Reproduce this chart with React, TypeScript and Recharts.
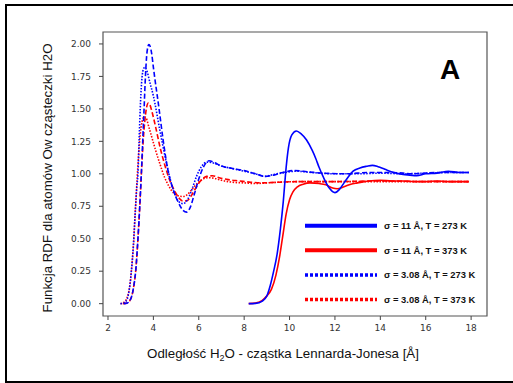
import React from 'react';
import { LineChart, Line, XAxis, YAxis, ReferenceArea } from 'recharts';

const xTicks = [2, 4, 6, 8, 10, 12, 14, 16, 18];
const yTicks = [0, 0.25, 0.5, 0.75, 1, 1.25, 1.5, 1.75, 2];
const xDomain = [1.78, 18.7];
const yDomain = [-0.095, 2.092];

// sigma = 11 Å, T = 273 K (solid blue)
const sigma11T273: number[][] = [
  [8.2, 0], [8.5, 0.002], [8.8, 0.02], [9.0, 0.06], [9.15, 0.14], [9.3, 0.25], [9.45, 0.38], [9.6, 0.58],
  [9.72, 0.78], [9.85, 1.05], [9.95, 1.2], [10.1, 1.3], [10.3, 1.33], [10.5, 1.31], [10.75, 1.26], [11.0, 1.18],
  [11.15, 1.12], [11.3, 1.05], [11.5, 0.97], [11.75, 0.89], [12.0, 0.855], [12.2, 0.88], [12.4, 0.93], [12.6, 0.98],
  [12.8, 1.02], [13.1, 1.045], [13.4, 1.058], [13.65, 1.065], [13.9, 1.055], [14.2, 1.035], [14.6, 1.01], [15.0, 0.995],
  [15.3, 0.99], [15.6, 0.985], [16.0, 1.0], [16.5, 1.005], [17.0, 1.02], [17.5, 1.01], [17.9, 1.01],
];

// sigma = 11 Å, T = 373 K (solid red)
const sigma11T373: number[][] = [
  [8.2, 0], [8.5, 0.005], [8.8, 0.025], [9.0, 0.06], [9.2, 0.11], [9.4, 0.22], [9.55, 0.35], [9.7, 0.52],
  [9.85, 0.69], [10.0, 0.8], [10.15, 0.86], [10.35, 0.9], [10.6, 0.92], [10.9, 0.93], [11.3, 0.925], [11.6, 0.915],
  [11.9, 0.89], [12.1, 0.885], [12.4, 0.9], [12.7, 0.92], [13.0, 0.93], [13.5, 0.945], [14.0, 0.95], [14.5, 0.945],
  [15, 0.945], [15.5, 0.94], [16, 0.94], [16.5, 0.945], [17, 0.94], [17.5, 0.94], [17.9, 0.94],
];

// dashed blue
const dashedT273: number[][] = [
  [2.7, 0], [2.85, 0.005], [2.95, 0.02], [3.05, 0.06], [3.15, 0.15], [3.22, 0.25], [3.32, 0.5], [3.4, 0.75],
  [3.47, 1.0], [3.53, 1.25], [3.59, 1.5], [3.65, 1.75], [3.7, 1.9], [3.76, 1.98], [3.8, 1.995], [3.86, 1.98],
  [3.93, 1.92], [4.0, 1.82], [4.25, 1.5], [4.43, 1.26], [4.65, 1.02], [4.87, 0.88], [5.1, 0.78], [5.3, 0.72],
  [5.47, 0.705], [5.62, 0.74], [5.8, 0.84], [6.0, 0.96], [6.2, 1.05], [6.45, 1.1], [6.7, 1.085], [7.0, 1.06],
  [7.5, 1.04], [8.0, 1.025], [8.5, 1.0], [8.9, 0.98], [9.3, 0.99], [9.7, 1.01], [10.2, 1.025], [10.8, 1.015],
  [11.5, 1.005], [12.5, 1.0], [13.5, 1.01], [14.5, 1.01], [15.5, 1.0], [16.5, 1.01], [17.5, 1.01], [17.9, 1.01],
];

// sigma = 3.08 Å, T = 273 K (dotted blue)
const sigma308T273: number[][] = [
  [2.55, 0], [2.7, 0.005], [2.8, 0.02], [2.9, 0.07], [2.97, 0.15], [3.03, 0.25], [3.12, 0.45], [3.2, 0.7],
  [3.27, 0.9], [3.32, 1.0], [3.37, 1.25], [3.42, 1.5], [3.48, 1.7], [3.55, 1.8], [3.62, 1.82], [3.7, 1.8],
  [3.85, 1.7], [4.0, 1.6], [4.28, 1.34], [4.58, 1.08], [4.87, 0.88], [5.1, 0.79], [5.3, 0.77], [5.5, 0.8],
  [5.7, 0.88], [5.9, 0.98], [6.1, 1.05], [6.35, 1.09], [6.6, 1.085], [7.0, 1.06], [7.5, 1.04], [8.0, 1.02],
  [8.5, 1.0], [8.9, 0.98], [9.3, 0.995], [9.8, 1.01], [10.3, 1.02], [11, 1.01], [12, 1.0], [13, 1.0],
  [14, 1.005], [15, 1.0], [16, 1.005], [17, 1.01], [17.9, 1.01],
];

// dashed red
const dashedT373: number[][] = [
  [2.65, 0], [2.85, 0.005], [2.95, 0.02], [3.05, 0.06], [3.15, 0.15], [3.22, 0.25], [3.32, 0.5], [3.4, 0.75],
  [3.47, 1.0], [3.55, 1.25], [3.63, 1.42], [3.7, 1.51], [3.78, 1.545], [3.85, 1.53], [3.95, 1.47], [4.1, 1.36],
  [4.3, 1.2], [4.5, 1.07], [4.7, 0.96], [4.9, 0.88], [5.1, 0.82], [5.3, 0.79], [5.5, 0.795], [5.7, 0.84],
  [5.9, 0.9], [6.1, 0.95], [6.35, 0.98], [6.6, 0.985], [6.9, 0.97], [7.3, 0.955], [7.8, 0.945], [8.3, 0.935],
  [8.8, 0.93], [9.5, 0.935], [10.5, 0.94], [12, 0.94], [14, 0.945], [16, 0.94], [17.9, 0.94],
];

// sigma = 3.08 Å, T = 373 K (dotted red)
const sigma308T373: number[][] = [
  [2.55, 0], [2.7, 0.01], [2.8, 0.03], [2.9, 0.08], [2.97, 0.15], [3.03, 0.25], [3.12, 0.45], [3.2, 0.7],
  [3.28, 0.95], [3.35, 1.15], [3.42, 1.3], [3.5, 1.4], [3.6, 1.44], [3.68, 1.43], [3.8, 1.36], [3.95, 1.27],
  [4.1, 1.18], [4.3, 1.07], [4.5, 0.97], [4.7, 0.9], [4.9, 0.85], [5.1, 0.83], [5.3, 0.825], [5.5, 0.84],
  [5.7, 0.88], [5.9, 0.92], [6.1, 0.95], [6.4, 0.97], [6.7, 0.965], [7.0, 0.95], [7.5, 0.935], [8.0, 0.93],
  [8.5, 0.925], [9.0, 0.93], [9.5, 0.935], [10.5, 0.94], [12, 0.94], [14, 0.94], [16, 0.94], [17.9, 0.94],
];

const legendLabels = [
  'σ = 11 Å, T = 273 K',
  'σ = 11 Å, T = 373 K',
  'σ = 3.08 Å, T = 273 K',
  'σ = 3.08 Å, T = 373 K',
];
const legendColors = ['#0000ff', '#ff0000', '#0000ff', '#ff0000'];
const legendDash = [undefined, undefined, '3 2', '3 2'];

const toPts = (arr: number[][]) => arr.map(([x, y]) => ({ x, y }));

const series = [
  { name: 'dashedT373', data: toPts(dashedT373), color: '#ff0000', dash: '5 2.5' },
  { name: 'dottedT373', data: toPts(sigma308T373), color: '#ff0000', dash: '1.5 1.5' },
  { name: 'dashedT273', data: toPts(dashedT273), color: '#0000ff', dash: '5 2.5' },
  { name: 'dottedT273', data: toPts(sigma308T273), color: '#0000ff', dash: '1.5 1.5' },
  { name: 'solidT373', data: toPts(sigma11T373), color: '#ff0000', dash: undefined },
  { name: 'solidT273', data: toPts(sigma11T273), color: '#0000ff', dash: undefined },
];

const FONT = '"Liberation Sans", Arial, sans-serif';
const TICK_FONT = '"DejaVu Sans", sans-serif';

export default function App() {
  return (
    <div style={{ position: 'absolute', left: 0, top: 0, width: 513, height: 383, background: '#fff', overflow: 'hidden' }}>
      <LineChart width={513} height={383} margin={{ top: 32, right: 26, bottom: 37, left: 43 }}>
        <XAxis
          type="number"
          dataKey="x"
          domain={xDomain}
          ticks={xTicks}
          allowDataOverflow
          height={30}
          axisLine={false}
          tickSize={4}
          tickMargin={5}
          tickLine={{ stroke: '#444' }}
          tick={{ fontSize: 9, fill: '#333', fontFamily: TICK_FONT }}
        />
        <YAxis
          type="number"
          dataKey="y"
          domain={yDomain}
          ticks={yTicks}
          allowDataOverflow
          width={60}
          axisLine={false}
          tickSize={4}
          tickMargin={8}
          tickLine={{ stroke: '#444' }}
          tickFormatter={(v: number) => v.toFixed(2)}
          tick={{ fontSize: 9, fill: '#333', fontFamily: TICK_FONT }}
        />
        <ReferenceArea
          x1={xDomain[0]}
          x2={xDomain[1]}
          y1={yDomain[0]}
          y2={yDomain[1]}
          fill="none"
          fillOpacity={0}
          stroke="#555"
          strokeWidth={1.2}
        />
        {series.map((s) => (
          <Line
            key={s.name}
            data={s.data}
            dataKey="y"
            type="monotone"
            stroke={s.color}
            strokeWidth={1.6}
            strokeDasharray={s.dash}
            dot={false}
            activeDot={false}
            isAnimationActive={false}
            legendType="none"
          />
        ))}
      </LineChart>
      <svg width={513} height={383} style={{ position: 'absolute', left: 0, top: 0, pointerEvents: 'none' }}>
        <text x={450} y={79} textAnchor="middle" fontFamily={FONT} fontWeight="bold" fontSize={28} fill="#000">A</text>
        <text
          transform="translate(47,178) rotate(-90)"
          textAnchor="middle"
          dominantBaseline="central"
          fontFamily={FONT}
          fontSize={13.3}
          fill="#111"
        >
          Funkcja RDF dla atomów Ow cząsteczki H2O
        </text>
        <text x={283} y={358} textAnchor="middle" fontFamily={FONT} fontSize={13.3} fill="#111">
          Odległość H<tspan fontSize={9} dy={3}>2</tspan><tspan dy={-3}>O - cząstka Lennarda-Jonesa [Å]</tspan>
        </text>
        {legendLabels.map((lab, i) => {
          const y = 225.7 + i * 24.6;
          return (
            <g key={lab}>
              <line x1={305} x2={377} y1={y} y2={y} stroke={legendColors[i]} strokeWidth={i < 2 ? 4 : 3.5} strokeDasharray={legendDash[i]} />
              <text x={384} y={y} dominantBaseline="central" fontFamily={FONT} fontWeight="bold" fontSize={9.4} fill="#111">{lab}</text>
            </g>
          );
        })}
      </svg>
      <div
        style={{
          position: 'absolute', left: 5, top: 4, width: 508, height: 379, boxSizing: 'border-box',
          borderLeft: '2px solid #000', borderTop: '2px solid #000', borderBottom: '2px solid #000', pointerEvents: 'none',
        }}
      />
    </div>
  );
}
